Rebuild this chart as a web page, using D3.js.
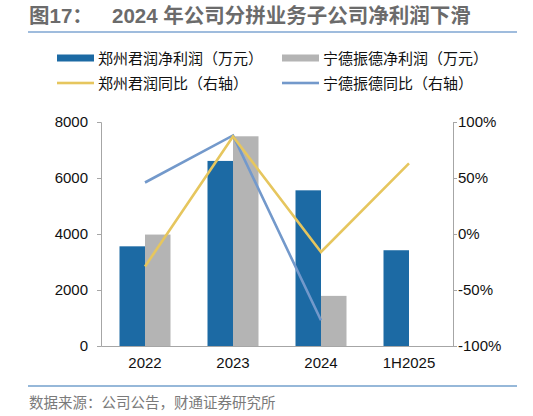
<!DOCTYPE html>
<html>
<head>
<meta charset="utf-8">
<script src="https://d3js.org/d3.v7.min.js"></script>
<style>
  body { margin: 0; background: #fff; }
  svg { display: block; font-family: "Liberation Sans", Arial, "Noto Sans CJK SC", sans-serif; }
</style>
</head>
<body>
<script>
// data
var categories = ["2022", "2023", "2024", "1H2025"];
var zzjProfit = [3560, 6610, 5560, 3420];        // 郑州君润净利润（万元）
var ndzdProfit = [3980, 7490, 1790, null];       // 宁德振德净利润（万元）
var zzjYoy = [-29, 87, -16, 63];                 // 郑州君润同比 %
var ndzdYoy = [46, 88, -77, null];               // 宁德振德同比 %
var leftTicks = [0, 2000, 4000, 6000, 8000];
var rightTicks = [-100, -50, 0, 50, 100];

var width = 533, height = 416;
var plot = { left: 101, right: 453, top: 122, bottom: 346 };
var cjk = '"Liberation Sans", Arial, "Noto Sans CJK SC", sans-serif';

var svg = d3.select("body").append("svg")
    .attr("width", width)
    .attr("height", height);

// title
svg.append("text")
    .attr("x", 29).attr("y", 23)
    .attr("font-family", cjk)
    .attr("font-size", 20.5).attr("font-weight", "bold")
    .attr("fill", "#6b6b6b")
    .text("图17：");
svg.append("text")
    .attr("x", 112).attr("y", 23)
    .attr("font-family", cjk)
    .attr("font-size", 20.5).attr("font-weight", "bold")
    .attr("fill", "#6b6b6b")
    .text("2024 年公司分拼业务子公司净利润下滑");
svg.append("line")
    .attr("x1", 28).attr("x2", 517).attr("y1", 32).attr("y2", 32)
    .attr("stroke", "#7fa6d2").attr("stroke-width", 1.5);

// scales
var x = d3.scaleBand().domain(categories).range([plot.left, plot.right]);
var yL = d3.scaleLinear().domain([0, 8000]).range([plot.bottom, plot.top]);
var yR = d3.scaleLinear().domain([-100, 100]).range([plot.bottom, plot.top]);
var barW = 25.5;

// bars
svg.append("g").selectAll("rect")
    .data(zzjProfit)
    .enter().append("rect")
    .attr("x", function(d, i) { return x(categories[i]) + x.bandwidth() / 2 - barW; })
    .attr("y", function(d) { return yL(d); })
    .attr("width", barW)
    .attr("height", function(d) { return plot.bottom - yL(d); })
    .attr("fill", "#1c6aa4");

svg.append("g").selectAll("rect")
    .data(ndzdProfit.filter(function(d) { return d != null; }))
    .enter().append("rect")
    .attr("x", function(d, i) { return x(categories[i]) + x.bandwidth() / 2; })
    .attr("y", function(d) { return yL(d); })
    .attr("width", barW)
    .attr("height", function(d) { return plot.bottom - yL(d); })
    .attr("fill", "#b4b4b4");

// axes
var axisColor = "#a6a6a6";
var gl = svg.append("g")
    .attr("transform", "translate(" + plot.left + ",0)")
    .call(d3.axisLeft(yL).tickValues(leftTicks).tickSize(4).tickPadding(9)
        .tickFormat(d3.format("d")));
var gr = svg.append("g")
    .attr("transform", "translate(" + plot.right + ",0)")
    .call(d3.axisRight(yR).tickValues(rightTicks).tickSize(4).tickPadding(1)
        .tickFormat(function(d) { return d + "%"; }));
var gb = svg.append("g")
    .attr("transform", "translate(0," + plot.bottom + ")")
    .call(d3.axisBottom(x).tickSize(0).tickPadding(11));
[gl, gr, gb].forEach(function(g) {
    g.select(".domain").attr("stroke", axisColor);
    g.selectAll(".tick line").attr("stroke", axisColor);
    g.selectAll(".tick text").attr("font-size", 15).attr("fill", "#111")
        .attr("font-family", '"Liberation Sans", Arial, sans-serif');
});

// lines
var line = d3.line()
    .defined(function(d) { return d != null; })
    .x(function(d, i) { return x(categories[i]) + x.bandwidth() / 2; })
    .y(function(d) { return yR(d); });

svg.append("path")
    .attr("d", line(ndzdYoy))
    .attr("fill", "none")
    .attr("stroke", "#7399cb")
    .attr("stroke-width", 2.6);
svg.append("path")
    .attr("d", line(zzjYoy))
    .attr("fill", "none")
    .attr("stroke", "#e6c65e")
    .attr("stroke-width", 2.6);

// legend
var legend = [
    { label: "郑州君润净利润（万元）", color: "#1c6aa4", type: "bar", x: 57, y: 58 },
    { label: "宁德振德净利润（万元）", color: "#b4b4b4", type: "bar", x: 282, y: 58 },
    { label: "郑州君润同比（右轴）", color: "#e6c65e", type: "line", x: 57, y: 83 },
    { label: "宁德振德同比（右轴）", color: "#7399cb", type: "line", x: 282, y: 83 }
];
var lg = svg.append("g").selectAll("g").data(legend).enter().append("g");
lg.append("rect")
    .attr("x", function(d) { return d.x; })
    .attr("y", function(d) { return d.type === "bar" ? d.y - 3.5 : d.y - 1.3; })
    .attr("width", 37)
    .attr("height", function(d) { return d.type === "bar" ? 7 : 2.6; })
    .attr("fill", function(d) { return d.color; });
lg.append("text")
    .attr("x", function(d) { return d.x + 41; })
    .attr("y", function(d) { return d.y + 5.5; })
    .attr("font-family", cjk)
    .attr("font-size", 15)
    .attr("fill", "#111")
    .text(function(d) { return d.label; });

// footer
svg.append("line")
    .attr("x1", 28).attr("x2", 517).attr("y1", 386).attr("y2", 386)
    .attr("stroke", "#2f72b4").attr("stroke-width", 1.2);
svg.append("text")
    .attr("x", 29).attr("y", 408)
    .attr("font-family", cjk)
    .attr("font-size", 14.5)
    .attr("fill", "#7a7a7a")
    .text("数据来源：公司公告，财通证券研究所");
</script>
</body>
</html>
